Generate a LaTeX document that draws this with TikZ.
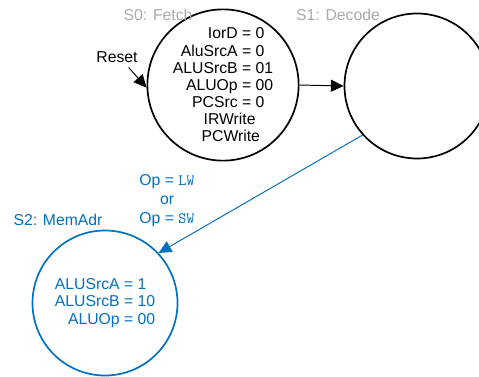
\documentclass[tikz,border=0pt]{standalone}
\usepackage{fontspec}
\setmainfont{Liberation Sans}
\usetikzlibrary{arrows.meta}
\definecolor{fsmblue}{RGB}{0,112,192}
\definecolor{fsmgray}{RGB}{170,170,170}

\begin{document}
\begin{tikzpicture}[
    >={Triangle[length=3.2mm, width=3mm]},
    every node/.style={font=\fontsize{11.2}{12.2}\selectfont},
    fsmstate/.style={draw, circle, line width=1.2pt, minimum size=3.625cm, inner sep=0pt, align=right},
    statename/.style={text=fsmgray}
]

    \useasboundingbox (0, 0) rectangle (11.975, -9.4);

    % States
    \node[fsmstate] (fetch) at (5.575, -2.125) {IorD = 0\phantom{0}\\ AluSrcA = 0\phantom{0}\\ ALUSrcB = 01\\ ALUOp = 00\\ PCSrc = 0\phantom{0}\\ IRWrite\phantom{00}\\ PCWrite\phantom{0:}};
    \node[fsmstate] (decode) at (10.425, -2.15) {};
    \node[fsmstate, draw=fsmblue, text=fsmblue] (memadr) at (2.625, -7.575) {ALUSrcA = 1\phantom{0}\\ ALUSrcB = 10\\ ALUOp = 00};

    % State names
    \node[statename] (fetchname) at (3.95, -0.375) {S0: Fetch};
    \node[statename] (decodename) at (8.45, -0.375) {S1: Decode};
    \node[text=fsmblue] (memadrname) at (1.45, -5.5) {S2: MemAdr};

    % Reset
    \node (reset) at (2.925, -1.425) {Reset};
    \draw[->, line width=0.7pt] (reset.-42) -- (fetch.182);

    % Transitions
    \draw[->, line width=0.7pt] (fetch.east) -- (decode.west);
    \draw[->, line width=0.7pt, fsmblue] (decode.222) -- (memadr.43);
    \node[text=fsmblue, align=center, font=\fontsize{11.2}{13.5}\selectfont] (cond) at (4.175, -5.025) {Op = \texttt{LW}\\ or\\ Op = \texttt{SW}};

\end{tikzpicture}
\end{document}
